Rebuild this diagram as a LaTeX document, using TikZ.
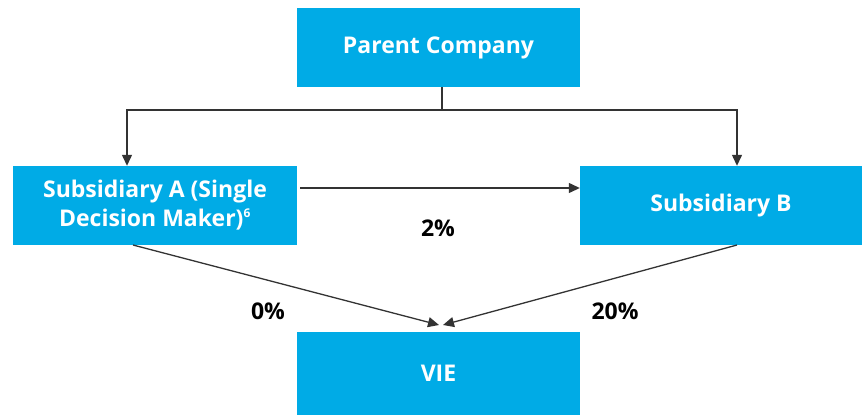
\documentclass[tikz,border=0pt]{standalone}
\usepackage{fontspec}
\setmainfont{Open Sans}
\usetikzlibrary{arrows.meta}
\definecolor{boxblue}{HTML}{00ABE6}
\definecolor{linegray}{HTML}{333333}
\tikzset{
  entity/.style={fill=boxblue, draw=none, text=white, font=\fontsize{23}{29}\selectfont\bfseries, align=center, inner sep=0pt},
  link/.style={draw=linegray, line width=1.3pt, -{Triangle[length=11pt,width=10pt]}},
  plain/.style={draw=linegray, line width=1.3pt},
  pct/.style={font=\fontsize{23}{27}\selectfont\bfseries, text=black}
}
\begin{document}
\begin{tikzpicture}[x=1pt,y=-1pt]
\useasboundingbox (0,0) rectangle (862,415);
\node[entity, minimum width=283pt, minimum height=79pt] (parent) at (438.5,47.5) {Parent Company};
\node[entity, minimum width=284pt, minimum height=79pt] (subA) at (155,205.5) {Subsidiary A (Single\\Decision Maker)\textsuperscript{\fontsize{12}{13}\selectfont 6}};
\node[entity, minimum width=282pt, minimum height=79pt] (subB) at (721,205.5) {Subsidiary B};
\node[entity, minimum width=283pt, minimum height=83pt] (vie) at (438.5,373.5) {VIE};
\coordinate (j) at (442,110);
\coordinate (jl) at (127,110);
\coordinate (jr) at (737,110);
\draw[plain] (parent.south -| j) -- (j);
\draw[link] (j) -- (jl) -- (jl |- subA.north);
\draw[link] (j) -- (jr) -- (jr |- subB.north);
\coordinate (aout) at (300,188);
\draw[link] (aout) -- (subB.west |- aout);
\coordinate (abot) at (133,245);
\coordinate (bbot) at (737,245);
\coordinate (vtipL) at (439,325);
\coordinate (vtipR) at (443,325);
\draw[link] (abot) -- (vtipL);
\draw[link] (bbot) -- (vtipR);
\node[pct] (p2) at (438,228) {2\%};
\node[pct] (p0) at (268,311) {0\%};
\node[pct] (p20) at (615,311) {20\%};
\end{tikzpicture}
\end{document}
